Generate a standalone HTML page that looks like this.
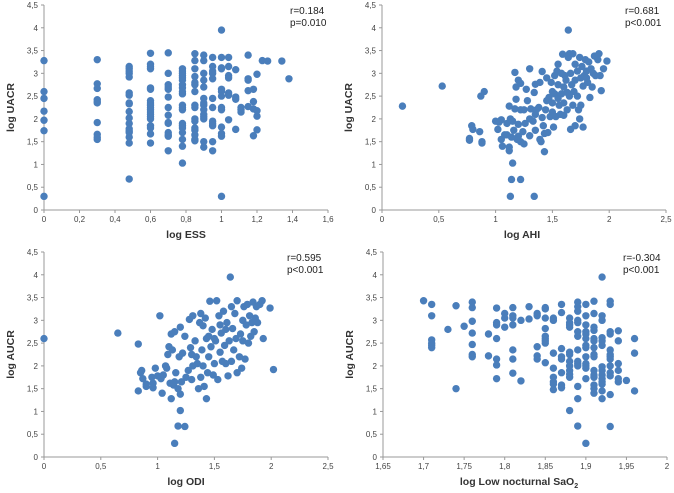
<!DOCTYPE html>
<html><head><meta charset="utf-8"><style>
html,body{margin:0;padding:0;background:#fff;}
svg{display:block;font-family:"Liberation Sans",sans-serif;}
</style></head><body>
<svg id="c" width="674" height="493" viewBox="0 0 674 493"></svg>
<script>
const essLevels=[0,0.3,0.48,0.6,0.7,0.78,0.85,0.9,0.95,1.0,1.04,1.08,1.11,1.15,1.18,1.2,1.23,1.26,1.34,1.38];
const essValues=[
[3.28,2.6,2.45,2.17,1.97,1.74,0.3],
[3.3,2.77,2.67,2.42,2.38,2.35,1.92,1.66,1.6,1.55],
[3.15,3.1,3.05,3.0,2.92,2.57,2.52,2.35,2.33,2.16,2.02,1.9,1.78,1.73,1.7,1.6,1.47,0.68],
[3.44,3.2,3.15,3.1,2.68,2.65,2.4,2.35,2.3,2.25,2.2,2.15,2.1,2.05,2.0,1.85,1.8,1.67,1.47],
[3.45,3.0,2.75,2.7,2.65,2.48,2.25,2.08,1.92,1.9,1.7,1.65,1.62,1.3],
[3.1,3.05,3.0,2.95,2.9,2.85,2.75,2.68,2.6,2.55,2.3,2.25,2.2,1.9,1.85,1.8,1.7,1.55,1.4,1.03],
[3.43,3.28,3.1,2.93,2.8,2.75,2.6,2.3,2.25,2.0,1.95,1.8,1.75,1.65,1.55,1.52],
[3.4,3.28,3.0,2.85,2.7,2.45,2.35,2.3,2.2,2.1,2.05,2.0,1.5,1.38],
[3.35,3.15,3.05,3.0,2.88,2.45,2.25,1.95,1.9,1.85,1.5,1.3],
[3.95,3.35,3.12,3.1,2.65,2.6,2.5,2.25,2.2,1.82,1.68,1.62,0.3],
[3.35,3.15,2.95,2.9,2.57,2.52,1.98],
[3.08,2.48,2.43,1.77],
[2.25,2.2,2.15],
[3.4,2.88,2.85,2.62,2.27],
[2.65,2.38,2.22,1.63],
[2.98,2.18,2.06,1.76],
[3.28],[3.27],[3.27],[2.88]];
const ahiPoints=[[0.18,2.28],[0.53,2.72],[0.87,2.5],[0.9,2.6],[0.77,1.57],[0.77,1.53],[0.79,1.85],[0.8,1.77],[0.86,1.72],[0.88,1.5],[0.88,1.47],
[1.0,1.95],[1.02,1.77],[1.03,1.93],[1.05,1.55],[1.06,1.4],[1.05,1.98],[1.08,1.65],[1.1,1.9],[1.12,1.38],[1.12,1.3],[1.12,2.28],[1.13,2.0],[1.14,0.67],[1.13,0.3],[1.15,1.03],[1.14,1.6],[1.16,1.75],[1.17,3.02],[1.18,2.7],[1.18,2.43],[1.17,2.22],[1.19,1.55],[1.2,1.88],[1.2,2.85],[1.22,2.2],[1.22,2.78],[1.22,0.67],[1.22,1.5],[1.24,1.72],[1.25,1.45],[1.26,1.9],[1.27,2.65],[1.28,2.4],[1.3,3.1],[1.3,2.0],[1.31,2.22],[1.3,1.63],[1.33,1.95],[1.34,0.3],[1.34,2.58],[1.35,2.76],[1.35,1.75],[1.36,2.2],[1.38,2.25],[1.39,1.55],[1.39,2.8],[1.4,1.5],[1.41,3.04],[1.41,2.03],[1.42,1.85],[1.43,1.28],[1.43,1.68],[1.44,2.2],[1.45,2.4],[1.46,1.7],[1.47,2.47],[1.48,2.05],[1.49,2.8],[1.5,2.15],[1.5,2.6],[1.51,1.82],[1.52,2.95],[1.52,2.55],[1.53,2.05],[1.54,3.05],[1.55,3.2],[1.55,2.75],[1.56,2.3],[1.57,2.1],[1.58,3.0],[1.58,2.55],[1.59,3.42],[1.6,2.35],[1.6,2.08],[1.61,2.95],[1.62,2.85],[1.63,2.2],[1.63,2.58],[1.64,3.35],[1.64,3.95],[1.65,3.43],[1.65,2.5],[1.66,1.77],[1.66,3.0],[1.67,2.75],[1.68,3.43],[1.68,2.3],[1.69,2.6],[1.7,2.85],[1.7,1.85],[1.72,3.05],[1.72,2.5],[1.73,2.2],[1.74,2.0],[1.74,3.35],[1.75,2.9],[1.75,2.3],[1.76,3.15],[1.77,2.72],[1.77,1.82],[1.78,2.95],[1.79,3.3],[1.8,3.05],[1.81,2.8],[1.82,3.25],[1.83,2.47],[1.84,3.1],[1.85,2.7],[1.86,3.0],[1.87,3.38],[1.88,2.95],[1.9,3.3],[1.91,3.43],[1.92,2.95],[1.93,2.62],[1.95,3.1],[1.98,3.27],[1.55,2.45],[1.45,2.9],[1.35,2.1],[1.25,2.2],[1.15,1.95],[1.1,1.65],[1.2,1.62],[1.5,2.35],[1.6,2.7],[1.7,3.2],[1.8,2.9]];
const odiPoints=[[0,2.6],[0.65,2.72],[0.83,2.48],[0.83,1.45],[0.85,1.85],[0.86,1.9],[0.87,1.72],[0.9,1.55],[0.9,1.6],[0.95,1.75],[0.96,1.62],[0.96,1.52],[0.98,1.95],[1.0,1.78],[1.02,3.1],[1.03,1.72],[1.04,1.4],[1.07,2.0],[1.08,1.95],[1.09,2.25],[1.1,2.42],[1.11,1.62],[1.12,2.7],[1.12,1.28],[1.13,2.35],[1.14,1.58],[1.15,0.3],[1.15,2.75],[1.16,1.85],[1.18,0.68],[1.18,1.5],[1.19,2.2],[1.2,1.02],[1.2,2.85],[1.2,1.38],[1.21,1.65],[1.22,2.28],[1.24,0.67],[1.24,2.65],[1.27,1.9],[1.28,3.02],[1.29,2.4],[1.3,1.7],[1.31,3.1],[1.31,2.0],[1.33,2.55],[1.34,2.2],[1.36,1.5],[1.37,2.95],[1.38,3.15],[1.38,1.75],[1.39,2.35],[1.4,2.88],[1.41,1.55],[1.42,3.05],[1.43,1.28],[1.43,2.6],[1.44,1.85],[1.45,2.2],[1.46,3.42],[1.47,2.42],[1.48,2.8],[1.49,1.8],[1.5,2.05],[1.51,2.55],[1.52,3.43],[1.53,1.7],[1.54,3.1],[1.55,2.3],[1.56,2.72],[1.57,2.1],[1.58,3.2],[1.59,2.45],[1.6,2.05],[1.61,2.95],[1.62,1.78],[1.63,2.55],[1.64,3.95],[1.65,3.3],[1.66,2.82],[1.67,2.35],[1.68,3.15],[1.69,2.6],[1.7,3.43],[1.7,1.85],[1.72,2.2],[1.73,2.7],[1.74,1.95],[1.75,3.0],[1.76,3.3],[1.77,2.15],[1.78,2.9],[1.79,3.35],[1.8,2.5],[1.81,3.1],[1.82,2.65],[1.83,2.95],[1.84,3.4],[1.85,2.75],[1.86,3.05],[1.87,3.3],[1.88,2.95],[1.9,3.35],[1.92,3.43],[1.93,2.6],[1.99,3.27],[2.02,1.92],[1.35,2.05],[1.25,1.75],[1.45,2.65],[1.55,2.9],[1.65,2.1],[1.75,2.55],[1.5,2.6],[1.6,2.8],[1.3,2.25],[1.15,1.65],[1.05,1.8],[1.4,2.0]];
const saoLevels=[1.70,1.71,1.73,1.74,1.75,1.76,1.78,1.79,1.80,1.81,1.82,1.83,1.84,1.85,1.86,1.87,1.88,1.89,1.90,1.91,1.92,1.93,1.94,1.95,1.96];
const saoValues=[
[3.43],[3.35,3.1,2.57,2.5,2.45,2.4],[2.8],[3.32,1.5],[2.87],
[3.4,3.28,2.98,2.72,2.47,2.25,2.2],[2.7,2.22],
[3.27,2.95,2.9,2.6,2.15,2.02,1.72],[3.15,3.05,2.85],
[3.28,3.1,3.05,2.9,2.35,2.15,1.84],[3.0,1.67],[3.3,3.03],
[3.15,3.1,2.42,2.22,2.15],
[3.28,3.25,3.05,2.82,2.65,2.6,2.55,2.5,2.07],
[3.05,3.0,2.28,1.95,1.75,1.65,1.6,1.48],
[3.35,3.17,2.38,2.2,2.15,1.85,1.58,1.52],
[3.05,2.95,2.9,2.85,2.3,2.25,2.1,2.0,1.9,1.82,1.75,1.02],
[3.4,3.3,3.2,3.0,2.95,2.75,2.65,2.35,2.1,2.05,2.0,1.55,1.28,0.68],
[3.35,3.1,2.9,2.75,2.7,2.6,2.45,2.4,2.2,2.05,2.0,1.95,1.72,0.3],
[3.42,3.15,2.85,2.78,2.6,2.55,2.4,2.25,2.2,1.9,1.8,1.75,1.58,1.5,1.4],
[3.95,3.1,3.0,2.62,2.55,2.45,1.98,1.9,1.8,1.72,1.65,1.6,1.45,1.28],
[3.42,3.35,2.75,2.7,2.35,2.25,2.2,2.15,2.0,1.85,1.78,1.37,0.67],
[2.77,2.55,2.05,1.9,1.72,1.65],[1.68],[2.6,2.28,1.45]];
const yTicks=["0","0,5","1","1,5","2","2,5","3","3,5","4","4,5"];
const essTicks=["0","0,2","0,4","0,6","0,8","1","1,2","1,4","1,6"];
const halfTicks=["0","0,5","1","1,5","2","2,5"];
const saoTicks=["1,65","1,7","1,75","1,8","1,85","1,9","1,95","2"];

const NS="http://www.w3.org/2000/svg";
const svg=document.getElementById('c');
function mk(tag,attrs,parent){const e=document.createElementNS(NS,tag);for(const k in attrs)e.setAttribute(k,attrs[k]);(parent||svg).appendChild(e);return e;}

function panel(o){
  const g=mk('g',{});
  
  
  const sx=v=>o.x0+(v-o.xmin)/(o.xmax-o.xmin)*(o.x1-o.x0);
  const sy=v=>o.y0-(v/4.5)*(o.y0-o.y1);
  mk('line',{x1:o.x0,y1:o.y0,x2:o.x1,y2:o.y0,stroke:'#999','stroke-width':1},g);
  mk('line',{x1:o.x0,y1:o.y0,x2:o.x0,y2:o.y1,stroke:'#999','stroke-width':1},g);
  yTicks.forEach((t,i)=>{const y=sy(i*0.5);
    mk('line',{x1:o.x0-3,y1:y,x2:o.x0,y2:y,stroke:'#999'},g);
    const tx=mk('text',{x:o.x0-6,y:y+3,'font-size':8,'text-anchor':'end',fill:'#444'},g);tx.textContent=t;
    
    });
  o.ticks.forEach((t,i)=>{const v=o.xmin+i*o.step;const x=sx(v);
    mk('line',{x1:x,y1:o.y0,x2:x,y2:o.y0+3,stroke:'#999'},g);
    const tx=mk('text',{x:x,y:o.y0+12,'font-size':8,'text-anchor':'middle',fill:'#444'},g);tx.textContent=t;
    
    });
  o.points.forEach(p=>{const c=mk('circle',{cx:sx(p[0]),cy:sy(p[1]),r:3.7,fill:'#4a7ebb'},g);
    
    });
  const yt=mk('text',{x:0,y:0,'font-size':10.5,'font-weight':'bold','text-anchor':'middle',fill:'#333',transform:`translate(${o.x0-30},${(o.y0+o.y1)/2}) rotate(-90)`},g);
  yt.innerHTML=o.ytitle;
  
  
  const xt=mk('text',{x:o.xtx,y:o.y0+28,'font-size':10.5,'font-weight':'bold','text-anchor':'middle',fill:'#333'},g);
  xt.innerHTML=o.xtitle;
  
  
  o.stats.forEach((s,i)=>{const st=mk('text',{x:o.sx,y:o.y1+9+i*12,'font-size':10,fill:'#222'},g);st.textContent=s;
    
    });
}
const flat=(lv,vals)=>{const r=[];lv.forEach((x,i)=>vals[i].forEach(y=>r.push([x,y])));return r;};

panel({name:'panel-ess',x0:44,x1:328,y0:210,y1:5,xmin:0,xmax:1.6,step:0.2,ticks:essTicks,points:flat(essLevels,essValues),ytitle:'log UACR',xtitle:'log ESS',xtx:186,sx:290,stats:['r=0.184','p=0.010']});
panel({name:'panel-ahi',x0:382,x1:666,y0:210,y1:5,xmin:0,xmax:2.5,step:0.5,ticks:halfTicks,points:ahiPoints,ytitle:'log UACR',xtitle:'log AHI',xtx:522,sx:625,stats:['r=0.681','p<0.001']});
panel({name:'panel-odi',x0:44,x1:328,y0:457,y1:252,xmin:0,xmax:2.5,step:0.5,ticks:halfTicks,points:odiPoints,ytitle:'log AUCR',xtitle:'log ODI',xtx:186,sx:287,stats:['r=0.595','p<0.001']});
panel({name:'panel-sao2',x0:383,x1:667,y0:457,y1:252,xmin:1.65,xmax:2.0,step:0.05,ticks:saoTicks,points:flat(saoLevels,saoValues),ytitle:'log AUCR',xtitle:'log Low nocturnal SaO<tspan font-size="7" dy="3">2</tspan>',xtx:519,sx:623,stats:['r=-0.304','p<0.001']});
</script>
</body></html>
